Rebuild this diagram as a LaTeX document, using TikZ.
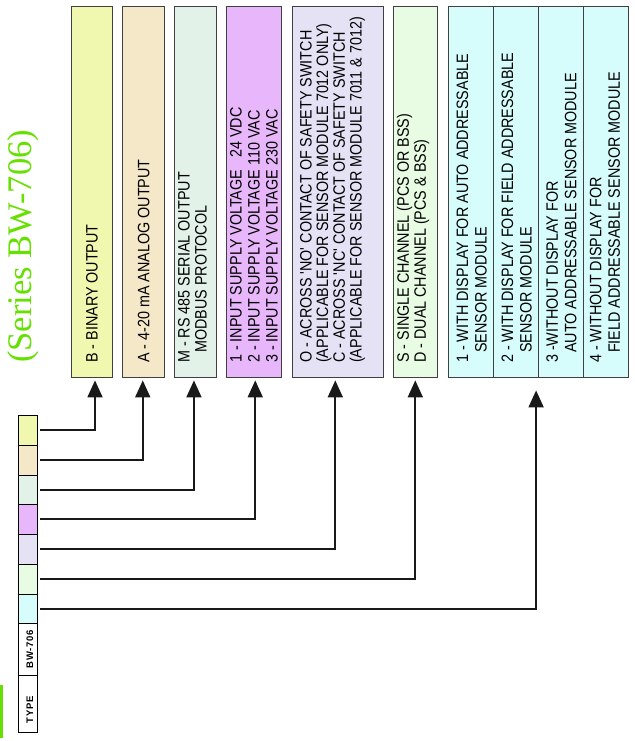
\documentclass[tikz,border=0pt]{standalone}
\usepackage{fontspec}
\setmainfont{Liberation Serif}
\newfontfamily\optfont[FakeStretch=0.87]{Liberation Sans}
\newfontfamily\typefont[LetterSpace=8]{Liberation Sans}
\usetikzlibrary{arrows.meta}
\definecolor{binfill}{HTML}{F0F8B0}
\definecolor{anafill}{HTML}{F5E8C8}
\definecolor{modfill}{HTML}{E3F2E8}
\definecolor{voltfill}{HTML}{E8B6FA}
\definecolor{swfill}{HTML}{E6E2F6}
\definecolor{chanfill}{HTML}{E8FCE4}
\definecolor{dispfill}{HTML}{D6FCFC}
\definecolor{titlegreen}{HTML}{66E000}
\tikzset{
  optbox/.style={draw=black!75, line width=0.8pt, inner sep=0pt, minimum height=371pt},
  opttext/.style={rotate=90, anchor=west, inner sep=0pt, align=left, font=\optfont\fontsize{16.5}{#1}\selectfont},
  opttext/.default=17,
  cell/.style={draw=black, line width=0.9pt, inner sep=0pt, minimum width=19pt},
  typetext/.style={rotate=90, inner sep=0pt, font=\typefont\bfseries\fontsize{9.5}{10}\selectfont},
  conn/.style={line width=1.8pt, draw=black!90, -{Triangle[length=17pt,width=15pt]}},
}

\begin{document}
\begin{tikzpicture}[x=1pt, y=-1pt]
  \useasboundingbox (0,0) rectangle (634,741);

  % Title
  \node[rotate=90, anchor=base west, inner sep=0pt, text=titlegreen, font=\fontsize{34.5}{34.5}\selectfont] (title) at (31,363) {(Series BW-706)};
  \fill[titlegreen] (0,685) rectangle (2.5,738);

  % Option boxes
  \node[optbox, fill=binfill, minimum width=40.6pt] (boxB) at (92,191.5) {};
  \node[optbox, fill=anafill, minimum width=41.3pt] (boxA) at (143.35,191.5) {};
  \node[optbox, fill=modfill, minimum width=41.7pt] (boxM) at (195.15,191.5) {};
  \node[optbox, fill=voltfill, minimum width=55.3pt] (boxV) at (253.65,191.5) {};
  \node[optbox, fill=swfill, minimum width=90.8pt] (boxO) at (337.9,191.5) {};
  \node[optbox, fill=chanfill, minimum width=44pt] (boxS) at (415.3,191.5) {};
  \node[optbox, fill=dispfill, minimum width=45.3pt] (disp1) at (470.65,191.5) {};
  \node[optbox, fill=dispfill, minimum width=45.4pt] (disp2) at (516,191.5) {};
  \node[optbox, fill=dispfill, minimum width=44.6pt] (disp3) at (561,191.5) {};
  \node[optbox, fill=dispfill, minimum width=44.7pt] (disp4) at (605.65,191.5) {};

  % Option texts
  \node[opttext] (txtB) at (92,363) {B - BINARY OUTPUT};
  \node[opttext] (txtA) at (143.8,363) {A - 4-20 mA ANALOG OUTPUT};
  \node[opttext] (txtM) at (192.5,363) {M - RS 485 SERIAL OUTPUT\\\hspace*{10pt}MODBUS PROTOCOL};
  \node[opttext=18] (txtV) at (254,363) {1 - INPUT SUPPLY VOLTAGE\ \ \ 24 VDC\\2 - INPUT SUPPLY VOLTAGE 110 VAC\\3 - INPUT SUPPLY VOLTAGE 230 VAC};
  \node[opttext=16.7] (txtO) at (332.5,363) {O - ACROSS 'NO' CONTACT OF SAFETY SWITCH\\(APPLICABLE FOR SENSOR MODULE 7012 ONLY)\\C - ACROSS 'NC' CONTACT OF SAFETY SWITCH\\(APPLICABLE FOR SENSOR MODULE 7011 \& 7012)};
  \node[opttext] (txtS) at (413,363) {S - SINGLE CHANNEL (PCS OR BSS)\\D - DUAL CHANNEL (PCS \& BSS)};
  \node[opttext=18.5] (txtD1) at (471.75,363) {1 - WITH DISPLAY FOR AUTO ADDRESSABLE\\\hspace*{10pt}SENSOR MODULE};
  \node[opttext=18.5] (txtD2) at (516.75,363) {2 - WITH DISPLAY FOR FIELD ADDRESSABLE\\\hspace*{10pt}SENSOR MODULE};
  \node[opttext=18.5] (txtD3) at (561.5,363) {3 -WITHOUT DISPLAY FOR\\\hspace*{10pt}AUTO ADDRESSABLE SENSOR MODULE};
  \node[opttext=18.5] (txtD4) at (605,363) {4 - WITHOUT DISPLAY FOR\\\hspace*{10pt}FIELD ADDRESSABLE SENSOR MODULE};

  % Type code column
  \node[cell, fill=binfill, minimum height=30pt] (c1) at (27.8,430) {};
  \node[cell, fill=anafill, minimum height=30pt] (c2) at (27.8,460) {};
  \node[cell, fill=modfill, minimum height=29.3pt] (c3) at (27.8,489.7) {};
  \node[cell, fill=voltfill, minimum height=30pt] (c4) at (27.8,519.3) {};
  \node[cell, fill=swfill, minimum height=30pt] (c5) at (27.8,549.3) {};
  \node[cell, fill=chanfill, minimum height=30pt] (c6) at (27.8,579.3) {};
  \node[cell, fill=dispfill, minimum height=29pt] (c7) at (27.8,608.8) {};
  \node[cell, fill=white, minimum height=51.7pt] (cBW) at (27.8,649.2) {};
  \node[cell, fill=white, minimum height=57.7pt] (cType) at (27.8,703.9) {};
  \node[typetext] (txtBW) at ([xshift=2pt]cBW.center) {BW-706};
  \node[typetext] (txtType) at ([xshift=2pt,yshift=-6pt]cType.center) {TYPE};

  % Connectors
  \draw[conn] ([xshift=2pt]c1.east) -| ([xshift=3pt,yshift=-3pt]boxB.south);
  \draw[conn] ([xshift=2pt]c2.east) -| ([xshift=-0.6pt,yshift=-3pt]boxA.south);
  \draw[conn] ([xshift=2pt]c3.east) -| ([xshift=-1.2pt,yshift=-3pt]boxM.south);
  \draw[conn] ([xshift=2pt]c4.east) -| ([xshift=1.6pt,yshift=-3pt]boxV.south);
  \draw[conn] ([xshift=2pt]c5.east) -| ([xshift=-2.6pt,yshift=-3pt]boxO.south);
  \draw[conn] ([xshift=2pt]c6.east) -| ([yshift=-3pt]boxS.south);
  \draw[conn] ([xshift=2pt]c7.east) -| ([xshift=-3pt,yshift=-13pt]disp2.south east);
\end{tikzpicture}
\end{document}
